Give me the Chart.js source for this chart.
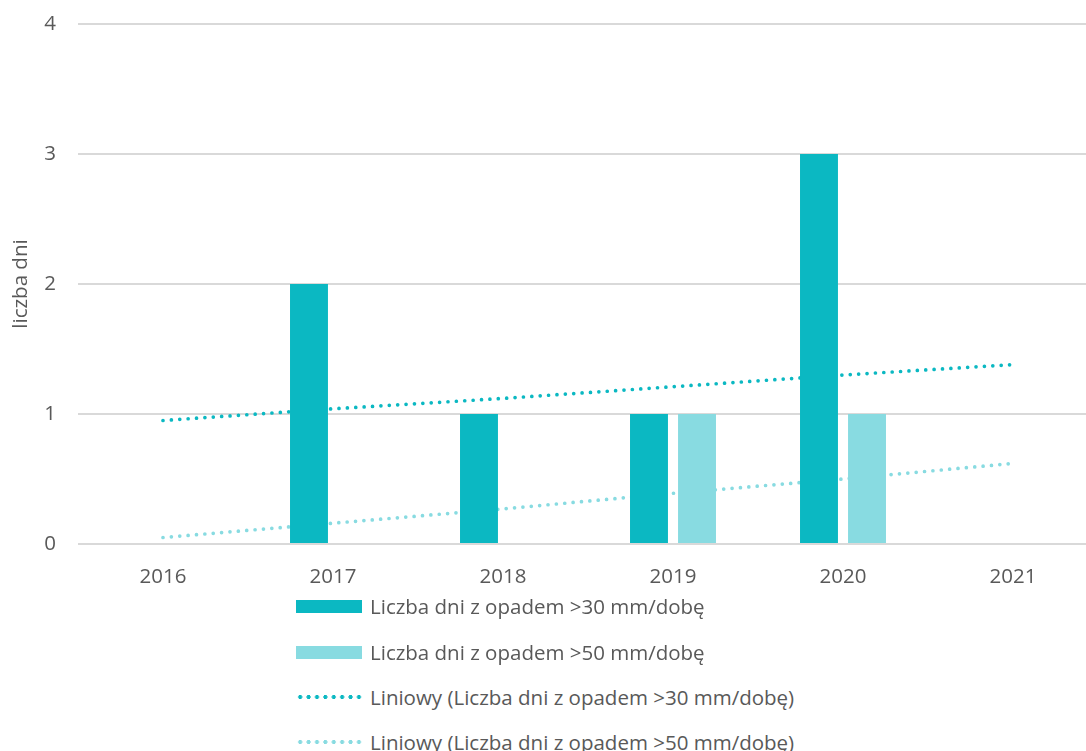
<!DOCTYPE html>
<html lang="pl">
<head>
<meta charset="utf-8">
<title>Liczba dni z opadem</title>
<script src="https://cdn.jsdelivr.net/npm/chart.js@4"></script>
<style>
    html, body { margin: 0; padding: 0; background: #fff; overflow: hidden; }
    #wrap { position: relative; width: 1100px; height: 751px; font-family: 'Open Sans', sans-serif; }
    #chartBox { position: absolute; left: 0; top: 0; width: 1100px; height: 600px; }
    .legend-row { position: absolute; left: 296px; height: 26px; display: flex; align-items: center; color: #595959; font-size: 20.5px; }
    .legend-row .swatch { width: 66px; height: 13px; margin-right: 8px; }
    .legend-row .dots { width: 68px; height: 4px; margin-right: 6px; background-repeat: repeat-x; background-size: 8.4px 4px; }
</style>
</head>
<body>
<div id="wrap">
    <div id="chartBox"><canvas id="rainChart"></canvas></div>
    <div id="legend"></div>
</div>
<script>
// ========== DATA ==========
const years = ['2016', '2017', '2018', '2019', '2020', '2021'];
const days30 = [0, 2, 1, 1, 3, 0];
const days50 = [0, 0, 0, 1, 1, 0];
const trend30 = [0.95, 1.04, 1.12, 1.21, 1.30, 1.38];
const trend50 = [0.05, 0.16, 0.27, 0.39, 0.50, 0.62];
const yTicks = [0, 1, 2, 3, 4];

const label30 = 'Liczba dni z opadem >30 mm/dobę';
const label50 = 'Liczba dni z opadem >50 mm/dobę';

const COLOR_30 = '#0bb8c2';
const COLOR_50 = '#88dbe1';
const TEXT = '#595959';
const FONT = { family: "'Open Sans', sans-serif", size: 20.5 };

// ========== CHART ==========
const ctx = document.getElementById('rainChart').getContext('2d');
new Chart(ctx, {
    type: 'bar',
    data: {
        labels: years,
        datasets: [
            {
                label: label30,
                data: days30,
                backgroundColor: COLOR_30,
                categoryPercentage: 0.565,
                barPercentage: 0.79,
                order: 1
            },
            {
                label: label50,
                data: days50,
                backgroundColor: COLOR_50,
                categoryPercentage: 0.565,
                barPercentage: 0.79,
                order: 1
            },
            {
                type: 'line',
                label: 'Liniowy (' + label30 + ')',
                data: trend30,
                borderColor: COLOR_30,
                borderWidth: 3.7,
                borderDash: [0, 8.4],
                borderCapStyle: 'round',
                pointRadius: 0,
                fill: false,
                order: 2
            },
            {
                type: 'line',
                label: 'Liniowy (' + label50 + ')',
                data: trend50,
                borderColor: COLOR_50,
                borderWidth: 3.7,
                borderDash: [0, 8.4],
                borderCapStyle: 'round',
                pointRadius: 0,
                fill: false,
                order: 2
            }
        ]
    },
    options: {
        responsive: true,
        maintainAspectRatio: false,
        animation: false,
        layout: { padding: { top: 24, right: 2, left: 0, bottom: 0 } },
        plugins: {
            legend: { display: false },
            tooltip: { enabled: false }
        },
        scales: {
            x: {
                grid: { display: false, drawTicks: false },
                border: { display: false },
                ticks: { color: TEXT, font: FONT, padding: 21, maxRotation: 0 },
                afterFit: function(scale) { scale.height = 56; }
            },
            y: {
                min: 0,
                max: 4,
                afterBuildTicks: function(scale) {
                    scale.ticks = yTicks.map(v => ({ value: v }));
                },
                grid: { color: '#d9d9d9', lineWidth: 2, drawTicks: false },
                border: { display: false },
                ticks: { color: TEXT, font: FONT, padding: 22 },
                title: {
                    display: true,
                    text: 'liczba dni',
                    color: TEXT,
                    font: FONT,
                    padding: { top: 9, bottom: 0 }
                },
                afterFit: function(scale) {
                    // fixed axis width; let layout padding set the top edge
                    scale.width = 78;
                    scale.paddingTop = 0;
                    scale.paddingBottom = 0;
                }
            }
        }
    }
});

// ========== LEGEND ==========
const legendItems = [
    { text: label30, kind: 'bar', color: COLOR_30 },
    { text: label50, kind: 'bar', color: COLOR_50 },
    { text: 'Liniowy (' + label30 + ')', kind: 'dots', color: COLOR_30 },
    { text: 'Liniowy (' + label50 + ')', kind: 'dots', color: COLOR_50 }
];
const rowCenters = [606, 652, 697, 742];

document.getElementById('legend').innerHTML = legendItems.map((item, i) => {
    const swatch = item.kind === 'bar'
        ? `<span class="swatch" style="background:${item.color}"></span>`
        : `<span class="dots" style="background-image:radial-gradient(circle, ${item.color} 1.8px, transparent 2.2px)"></span>`;
    return `<div class="legend-row" style="top:${rowCenters[i] - 13}px">${swatch}<span>${item.text}</span></div>`;
}).join('');
</script>
</body>
</html>
